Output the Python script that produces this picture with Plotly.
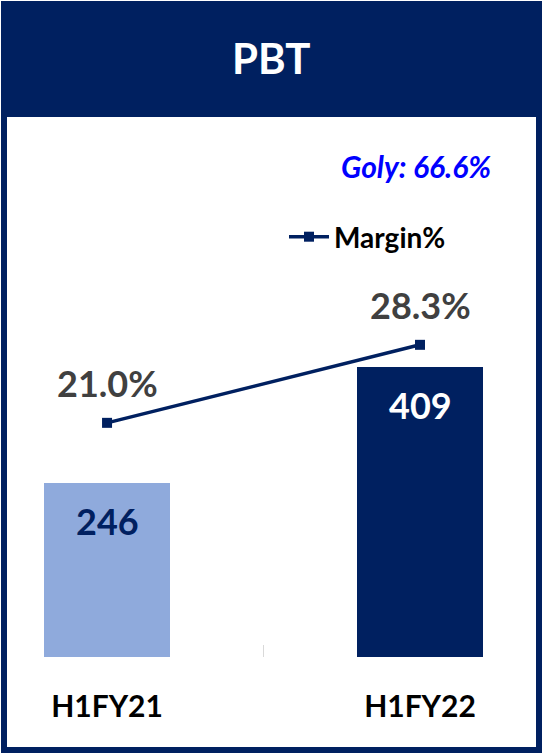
import plotly.graph_objects as go

# Data
periods = ["H1FY21", "H1FY22"]
pbt = [246, 409]
margin_pct = [21.0, 28.3]
growth_text = "Goly: 66.6%"
title_text = "PBT"

NAVY = "#002060"
LIGHT = "#8FAADC"
GREY_TXT = "#404040"
FONT = "Lato"

W, H = 543, 754
plot_top_px, plot_bot_px = 130, 657


def py(px):
    """Pixel row -> paper fraction."""
    return 1 - px / H


fig = go.Figure()

fig.add_trace(go.Bar(
    x=periods, y=pbt, width=0.4,
    marker=dict(color=[LIGHT, NAVY], line=dict(width=0)),
    showlegend=False, hoverinfo="skip",
))

fig.add_trace(go.Scatter(
    x=periods, y=margin_pct, yaxis="y2", name="Margin%",
    mode="lines+markers",
    line=dict(color=NAVY, width=3.5),
    marker=dict(symbol="square", size=10, color=NAVY),
))

# Value labels inside the bars
for i, (p, v) in enumerate(zip(periods, pbt)):
    fig.add_annotation(
        x=p, y=v, yref="y", yshift=-38, yanchor="middle", xanchor="center",
        text=f"<b>{v}</b>", showarrow=False,
        font=dict(family=FONT, size=36, color="white" if i == 1 else NAVY),
    )

# Margin labels above the line points
for p, m in zip(periods, margin_pct):
    fig.add_annotation(
        x=p, y=m, yref="y2", yshift=40, yanchor="middle", xanchor="center",
        text=f"<b>{m:.1f}%</b>", showarrow=False,
        font=dict(family=FONT, size=36, color=GREY_TXT),
    )

# Frame: navy panel with a white body
fig.add_shape(type="rect", xref="paper", yref="paper",
              x0=1 / W, x1=542 / W, y0=py(753), y1=py(1),
              fillcolor=NAVY, line=dict(width=0), layer="below")
fig.add_shape(type="rect", xref="paper", yref="paper",
              x0=7 / W, x1=536 / W, y0=py(747), y1=py(117),
              fillcolor="white", line=dict(width=0), layer="below")

fig.add_annotation(
    x=0.5, y=py(58), xref="paper", yref="paper",
    yanchor="middle", xanchor="center",
    text=f"<b>{title_text}</b>",
    showarrow=False, font=dict(family=FONT, size=42, color="white"),
)
fig.add_annotation(
    x=416 / W, y=py(166), xref="paper", yref="paper",
    yanchor="middle", xanchor="center",
    text=f"<b><i>{growth_text}</i></b>", showarrow=False,
    font=dict(family=FONT, size=30, color="#0000FF"),
)

fig.update_layout(
    width=W, height=H,
    margin=dict(l=0, r=0, t=0, b=0),
    paper_bgcolor="white", plot_bgcolor="rgba(0,0,0,0)",
    bargap=0,
    showlegend=True,
    legend=dict(
        x=284 / W, y=py(212), xanchor="left", yanchor="top",
        bgcolor="rgba(0,0,0,0)", itemwidth=40,
        font=dict(family=FONT, size=28, color="black", weight="bold"),
    ),
    xaxis=dict(
        type="category", range=[-0.342, 1.393],
        showgrid=False, zeroline=False, showline=False,
        ticks="inside", tickson="boundaries", ticklen=12,
        tickcolor="#D9D9D9", tickwidth=1,
        tickfont=dict(family=FONT, size=30, color="black"),
        ticklabelstandoff=29,
        tickvals=periods, ticktext=[f"<b>{p}</b>" for p in periods],
        domain=[0, 1], automargin=False,
    ),
    yaxis=dict(
        range=[0, (plot_bot_px - plot_top_px) / 0.709],
        domain=[py(plot_bot_px), py(plot_top_px)],
        visible=False, automargin=False,
    ),
    yaxis2=dict(
        range=[-0.91, 48.4], overlaying="y", side="right",
        visible=False, automargin=False,
    ),
    font=dict(family=FONT),
)

fig.write_html("out.html")
